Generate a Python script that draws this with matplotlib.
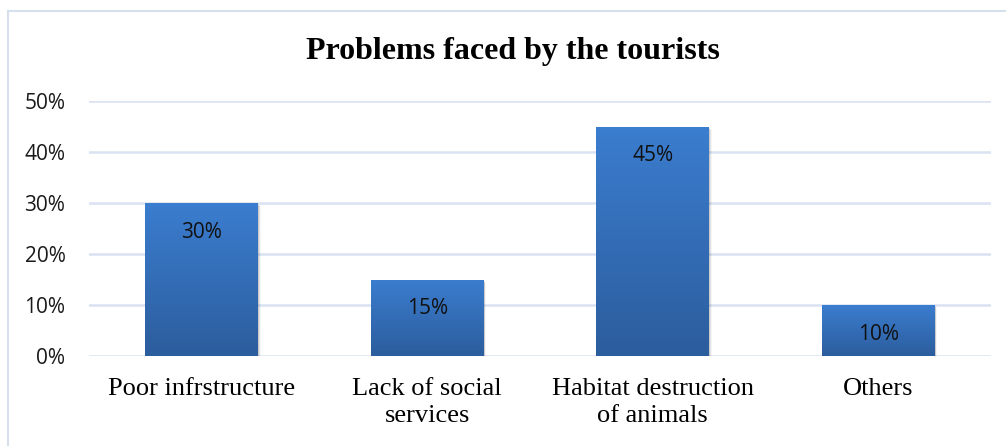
import numpy as np
import matplotlib
matplotlib.use("Agg")
import matplotlib.pyplot as plt
from matplotlib.colors import LinearSegmentedColormap
from matplotlib.patches import Rectangle
from matplotlib.lines import Line2D
from matplotlib.ticker import FuncFormatter

categories = ["Poor infrstructure", "Lack of social\nservices",
              "Habitat destruction\nof animals", "Others"]
values = [0.30, 0.15, 0.45, 0.10]
value_labels = ["30%", "15%", "45%", "10%"]
yticks = [0.0, 0.1, 0.2, 0.3, 0.4, 0.5]

fig = plt.figure(figsize=(10.06, 4.46), dpi=100)
ax = fig.add_axes([89 / 1006, 1 - 356 / 446, (991 - 89) / 1006, (356 - 101) / 446])

# chart frame
frame_color = "#D6DFEE"
fig.add_artist(Line2D([8 / 1006, 8 / 1006], [0, 1 - 11 / 446], transform=fig.transFigure,
                      color=frame_color, lw=1.5))
fig.add_artist(Line2D([8 / 1006, 1], [1 - 11 / 446, 1 - 11 / 446], transform=fig.transFigure,
                      color=frame_color, lw=1.5))

x = np.arange(len(categories))
width = 0.5
ax.set_xlim(-0.5, len(categories) - 0.5)
ax.set_ylim(0, 0.5)

grid_color = "#D9E3F3"
for t in yticks:
    ax.axhline(t, color=grid_color, lw=1.8, zorder=0)

cmap = LinearSegmentedColormap.from_list("barfill", ["#2C5D9D", "#3B7DCF"])
grad = np.linspace(0, 1, 256).reshape(-1, 1)

bars = ax.bar(x, values, width=width, color="none", zorder=3)
for rect, v in zip(bars, values):
    x0 = rect.get_x()
    # soft drop shadow
    for k, a in enumerate([0.10, 0.07, 0.04]):
        dx = 0.004 * (k + 1)
        ax.add_patch(Rectangle((x0 + dx, -0.002 * (k + 1)), width, v, color="#000000",
                               alpha=a, lw=0, zorder=2))
    im = ax.imshow(grad, cmap=cmap, origin="lower", aspect="auto",
                   extent=(x0, x0 + width, 0, v), zorder=3, interpolation="bilinear")
    im.set_clip_path(rect)

for xi, v, lab in zip(x, values, value_labels):
    ax.annotate(lab, (xi, v), xytext=(0, -29), textcoords="offset pixels",
                ha="center", va="center", fontsize=15, family="Open Sans",
                color="#111111", zorder=5)

ax.set_yticks(yticks)
ax.yaxis.set_major_formatter(FuncFormatter(lambda v, p: f"{v * 100:.0f}%"))
ax.set_xticks(x)
ax.set_xticklabels(categories, family="Liberation Serif", fontsize=19, linespacing=1.3)
for lab in ax.get_yticklabels():
    lab.set_family("Open Sans")
    lab.set_fontsize(15)
    lab.set_color("#1A1A1A")
ax.tick_params(axis="both", length=0)
ax.tick_params(axis="y", pad=17)
ax.tick_params(axis="x", pad=16)
for s in ax.spines.values():
    s.set_visible(False)
ax.set_xlim(-0.5, len(categories) - 0.5)
ax.set_ylim(0, 0.5)

fig.text(513 / 1006, 1 - 52 / 446, "Problems faced by the tourists", ha="center", va="center",
         family="Liberation Serif", fontweight="bold", fontsize=23)

fig.savefig("out.png", dpi=100, facecolor="white")
